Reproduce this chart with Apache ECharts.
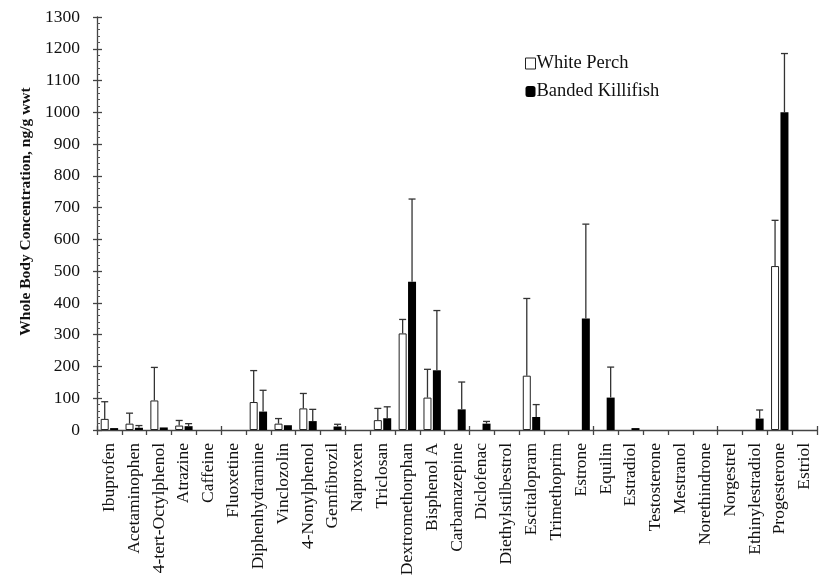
<!DOCTYPE html>
<html>
<head>
<meta charset="utf-8">
<script src="https://cdn.jsdelivr.net/npm/echarts@6/dist/echarts.min.js"></script>
<style>
  html, body { margin: 0; padding: 0; background: #fff; }
  #chart { width: 825px; height: 588px; }
</style>
</head>
<body>
<div id="chart"></div>
<script>
// categories (compounds)
var compounds = ["Ibuprofen", "Acetaminophen", "4-tert-Octylphenol", "Atrazine", "Caffeine",
  "Fluoxetine", "Diphenhydramine", "Vinclozolin", "4-Nonylphenol", "Gemfibrozil", "Naproxen",
  "Triclosan", "Dextromethorphan", "Bisphenol A", "Carbamazepine", "Diclofenac",
  "Diethylstilbestrol", "Escitalopram", "Trimethoprim", "Estrone", "Equilin", "Estradiol",
  "Testosterone", "Mestranol", "Norethindrone", "Norgestrel", "Ethinylestradiol",
  "Progesterone", "Estriol"];

// mean concentrations, ng/g wwt
var whitePerch = [35, 20, 93, 14, null, null, 88, 20, 68, null, null, 31, 304, 102, null, null,
  null, 171, null, null, null, null, null, null, null, null, null, 516, null];
var bandedKillifish = [6, 7, 8, 12, null, null, 58, 15, 28, 11, null, 37, 467, 188, 65, 20,
  null, 41, null, 351, 102, 6, null, null, null, null, 36, 1000, null];

// error bar sizes (upper only)
var whitePerchErr = [54, 33, 104, 16, null, null, 99, 16, 47, null, null, 37, 44, 89, null, null,
  null, 243, null, null, null, null, null, null, null, null, null, 144, null];
var bandedKillifishErr = [null, 7, null, 8, null, null, 67, null, 37, 7, null, 36, 260, 188, 86, 7,
  null, 39, null, 297, 96, null, null, null, null, null, 27, 185, null];

var yTicks = { min: 0, max: 1300, interval: 100 };

var chart = echarts.init(document.getElementById("chart"));
var serif = "'Liberation Serif', 'DejaVu Serif', serif";
var barW = 8;
var barGapPx = 1.4;

function errData(vals, errs) {
  var out = [];
  for (var i = 0; i < vals.length; i++) {
    if (vals[i] != null && errs[i] != null) out.push([i, vals[i], vals[i] + errs[i]]);
  }
  return out;
}

function errRender(shift) {
  return function (params, api) {
    var base = api.coord([api.value(0), api.value(1)]);
    var top = api.coord([api.value(0), api.value(2)]);
    var x = base[0] + shift;
    var st = { stroke: "#333", lineWidth: 1.3 };
    return {
      type: "group",
      children: [
        { type: "line", shape: { x1: x, y1: base[1], x2: x, y2: top[1] }, style: st },
        { type: "line", shape: { x1: x - 3.5, y1: top[1], x2: x + 3.5, y2: top[1] }, style: st }
      ]
    };
  };
}

var gridBox = { left: 97, right: 8, top: 17, bottom: 158 };
var shift = (barW + barGapPx) / 2;

var option = {
  animation: false,
  backgroundColor: "#fff",
  textStyle: { fontFamily: serif, color: "#111" },
  grid: [
    Object.assign({}, gridBox),
    Object.assign({}, gridBox)
  ],
  legend: {
    left: 520,
    top: 49,
    orient: "vertical",
    itemWidth: 10,
    itemHeight: 11,
    itemGap: 9,
    textStyle: { fontFamily: serif, fontSize: 18.5, color: "#111", padding: [0, 0, 0, -4] },
    data: [
      { name: "White Perch", icon: "rect", itemStyle: { color: "#fff", borderColor: "#222", borderWidth: 1 } },
      { name: "Banded Killifish", icon: "roundRect", itemStyle: { color: "#000" } }
    ]
  },
  xAxis: [
    {
      gridIndex: 0,
      type: "category",
      data: compounds,
      axisLine: { lineStyle: { color: "#444", width: 1.3 } },
      axisTick: { show: true, alignWithLabel: false, length: 5, lineStyle: { color: "#444", width: 1.3 } },
      axisLabel: { rotate: 90, interval: 0, margin: 13, fontFamily: serif, fontSize: 17.5, color: "#111", padding: [4, 0, 0, 0] }
    },
    {
      gridIndex: 1,
      type: "category",
      data: compounds,
      axisLine: { show: false },
      axisTick: { show: true, inside: true, length: 4, lineStyle: { color: "#444", width: 1.3 } },
      axisLabel: { show: false }
    }
  ],
  yAxis: [
    {
      gridIndex: 0,
      type: "value",
      min: yTicks.min,
      max: yTicks.max,
      interval: yTicks.interval,
      name: "Whole Body Concentration, ng/g wwt",
      nameLocation: "middle",
      nameGap: 56,
      nameTextStyle: { fontFamily: serif, fontSize: 15.5, fontWeight: "bold", color: "#111", padding: [0, 0, 0, 24] },
      axisLine: { show: true, lineStyle: { color: "#444", width: 1.3 } },
      axisTick: { show: true, inside: true, length: 5, lineStyle: { color: "#444", width: 1.3 } },
      minorTick: { show: true, splitNumber: 5, length: 3, lineStyle: { color: "#555", width: 1 } },
      splitLine: { show: false },
      axisLabel: {
        margin: 17, fontFamily: serif, fontSize: 17.5, color: "#111",
        formatter: function (v) { return String(v); }
      }
    },
    {
      gridIndex: 1,
      type: "value",
      min: yTicks.min,
      max: yTicks.max,
      interval: yTicks.interval,
      axisLine: { show: false },
      axisTick: { show: true, inside: false, length: 4, lineStyle: { color: "#444", width: 1.3 } },
      splitLine: { show: false },
      axisLabel: { show: false }
    }
  ],
  series: [
    {
      name: "White Perch",
      type: "bar",
      xAxisIndex: 0,
      yAxisIndex: 0,
      data: whitePerch,
      barWidth: barW,
      barGap: (barGapPx / barW * 100) + "%",
      itemStyle: { color: "#fff", borderColor: "#222", borderWidth: 1 }
    },
    {
      name: "Banded Killifish",
      type: "bar",
      xAxisIndex: 0,
      yAxisIndex: 0,
      data: bandedKillifish,
      barWidth: barW,
      itemStyle: { color: "#000" }
    },
    {
      type: "custom",
      xAxisIndex: 0,
      yAxisIndex: 0,
      renderItem: errRender(-shift),
      data: errData(whitePerch, whitePerchErr),
      z: 3
    },
    {
      type: "custom",
      xAxisIndex: 0,
      yAxisIndex: 0,
      renderItem: errRender(shift),
      data: errData(bandedKillifish, bandedKillifishErr),
      z: 3
    }
  ]
};

chart.setOption(option);
</script>
</body>
</html>
